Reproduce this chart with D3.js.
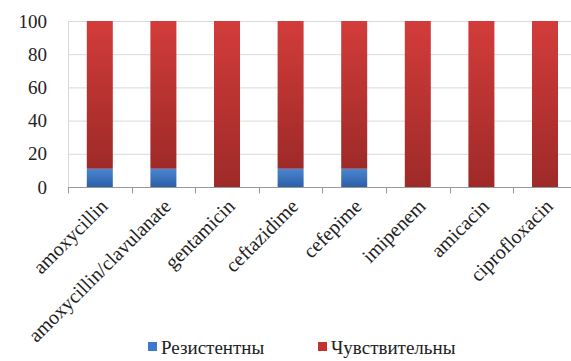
<!DOCTYPE html>
<meta charset="utf-8">
<body style="margin:0">
<script src="https://d3js.org/d3.v7.min.js"></script>
<script>

var width = 571, height = 361;

var drugs = ["amoxycillin", "amoxycillin/clavulanate", "gentamicin", "ceftazidime",
             "cefepime", "imipenem", "amicacin", "ciprofloxacin"];
var resistant = [11, 11, 0, 11, 11, 0, 0, 0];
var sensitive = [89, 89, 100, 89, 89, 100, 100, 100];
var seriesNames = ["Резистентны", "Чувствительны"];
var yTicks = [0, 20, 40, 60, 80, 100];

var serif = "'Times New Roman'";
var margin = {left: 68, top: 21};

var svg = d3.select("body").append("svg")
    .attr("width", width)
    .attr("height", height);

function label(size) {
  return function(sel) {
    sel.attr("font-family", serif)
      .attr("font-size", size)
      .style("font-family", "'Times New Roman', 'Liberation Serif', Tinos, serif")
      .style("font-size", size + "px")
      .attr("fill", "#222");
  };
}

var defs = svg.append("defs");
function grad(id, top, bottom) {
  var g = defs.append("linearGradient").attr("id", id)
      .attr("x1", 0).attr("y1", 0).attr("x2", 0).attr("y2", 1);
  g.append("stop").attr("offset", "0%").attr("stop-color", top);
  g.append("stop").attr("offset", "100%").attr("stop-color", bottom);
}
grad("gRed", "#d23c3a", "#9e2a28");
grad("gBlue", "#4a86d2", "#2c5fa6");

var x = d3.scaleBand().domain(drugs).range([margin.left, margin.left + 8 * 63.6]);
var y = d3.scaleLinear().domain([0, 100]).range([187, margin.top]);

// gridlines
svg.append("g")
  .selectAll("line").data(yTicks.slice(1)).enter().append("line")
    .attr("x1", margin.left).attr("x2", x.range()[1])
    .attr("y1", function(d) { return y(d) + 0.5; })
    .attr("y2", function(d) { return y(d) + 0.5; })
    .attr("stroke", "#d9d9d9");

// y axis
svg.append("line")
    .attr("x1", margin.left + 0.5).attr("x2", margin.left + 0.5)
    .attr("y1", y(100)).attr("y2", y(0))
    .attr("stroke", "#d9d9d9");
svg.selectAll(".ylbl").data(yTicks).enter().append("text")
    .attr("x", margin.left - 21)
    .attr("y", function(d) { return y(d); })
    .attr("dy", "0.35em")
    .attr("text-anchor", "end")
    .call(label(19))
    .text(function(d) { return d; });

// x axis
var xAxis = svg.append("g")
    .attr("transform", "translate(0," + (y(0) + 0.5) + ")");
xAxis.append("line").attr("x1", margin.left).attr("x2", x.range()[1]).attr("stroke", "#999");
xAxis.selectAll(".tk").data(drugs.concat(["end"])).enter().append("line")
    .attr("x1", function(d, i) { return Math.round(margin.left + i * x.bandwidth()) + 0.5; })
    .attr("x2", function(d, i) { return Math.round(margin.left + i * x.bandwidth()) + 0.5; })
    .attr("y1", 0).attr("y2", 6)
    .attr("stroke", "#999");

xAxis.selectAll(".lbl").data(drugs).enter().append("text")
    .attr("transform", function(d) {
      return "translate(" + (x(d) + x.bandwidth() / 2 + 4) + ",15) rotate(-45)";
    })
    .attr("text-anchor", "end")
    .attr("dy", "0.35em")
    .call(label(20))
    .text(function(d) { return d; });

// bars
var bw = 26;
var bars = svg.append("g");
drugs.forEach(function(d, i) {
  var cx = x(d) + x.bandwidth() / 2 - bw / 2;
  if (resistant[i] > 0) {
    bars.append("rect")
      .attr("x", cx).attr("width", bw)
      .attr("y", y(resistant[i])).attr("height", y(0) - y(resistant[i]))
      .attr("fill", "url(#gBlue)");
  }
  bars.append("rect")
    .attr("x", cx).attr("width", bw)
    .attr("y", y(resistant[i] + sensitive[i]))
    .attr("height", y(resistant[i]) - y(resistant[i] + sensitive[i]))
    .attr("fill", "url(#gRed)");
});

// legend
var legend = svg.append("g").attr("transform", "translate(0,347)");
var legX = [148, 318];
var legC = ["#3f78c8", "#c0332f"];
seriesNames.forEach(function(n, i) {
  legend.append("rect").attr("x", legX[i]).attr("y", -5).attr("width", 9).attr("height", 9)
    .attr("fill", legC[i]);
  legend.append("text").attr("x", legX[i] + 13).attr("y", 0).attr("dy", "0.35em")
    .call(label(19))
    .text(n);
});

</script>
